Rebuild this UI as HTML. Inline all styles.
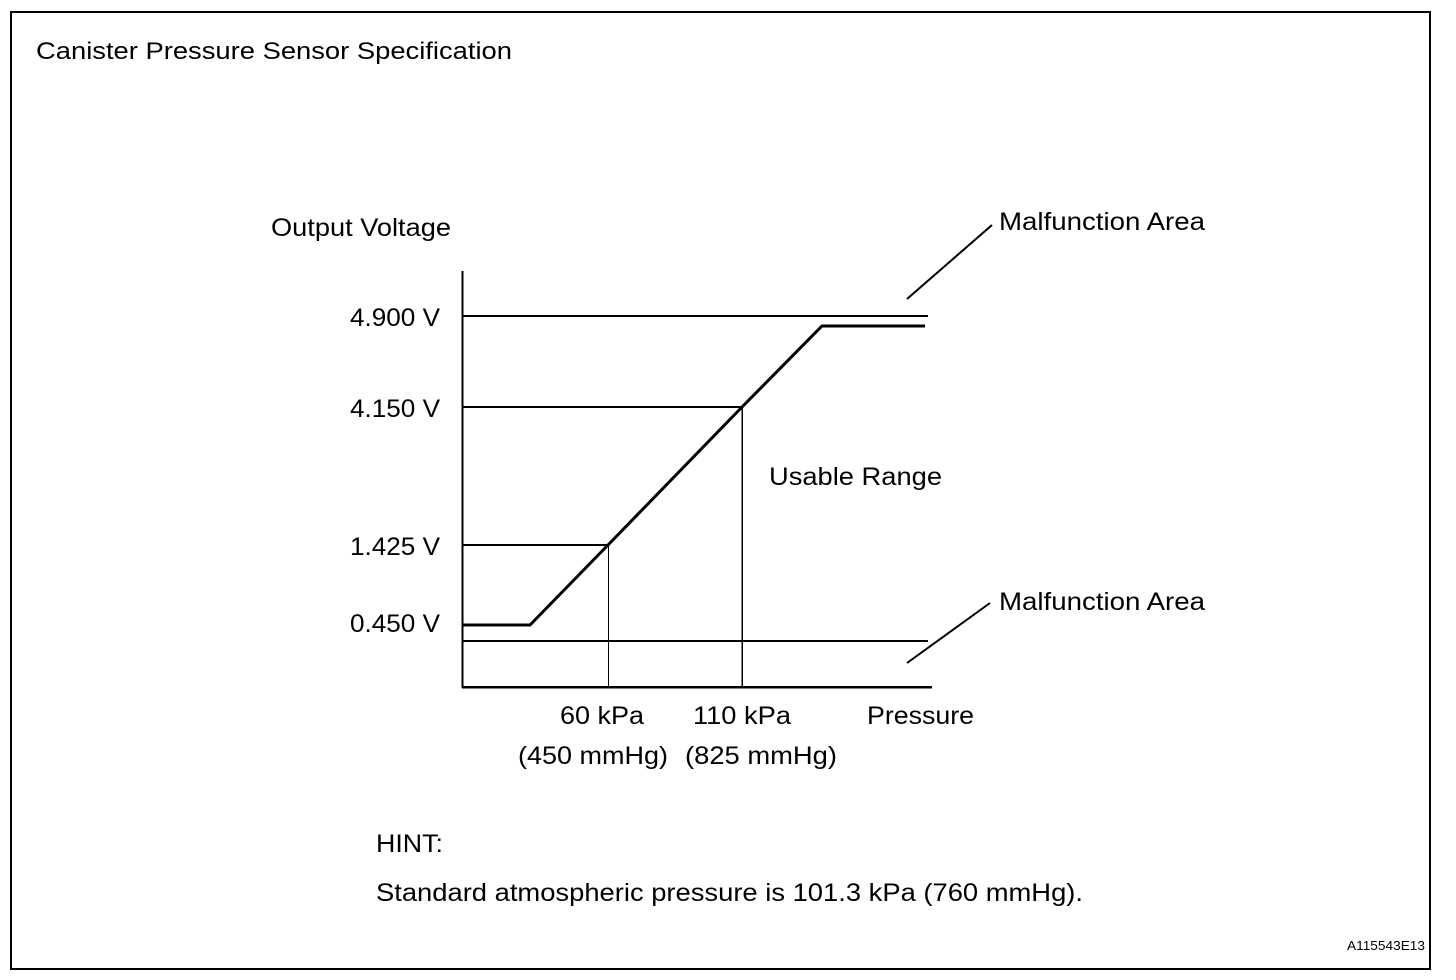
<!DOCTYPE html>
<html>
<head>
<meta charset="utf-8">
<style>
  html, body { margin: 0; padding: 0; background: #fff; }
  body { width: 1456px; height: 980px; overflow: hidden; }
  svg { display: block; }
  text { font-family: "Liberation Sans", Arial, sans-serif; fill: #000; }
</style>
</head>
<body>
<svg width="1456" height="980" viewBox="0 0 1456 980" xmlns="http://www.w3.org/2000/svg">
  <rect x="0" y="0" width="1456" height="980" fill="#fff"/>
  <!-- frame -->
  <rect x="11" y="12" width="1419" height="957" fill="none" stroke="#000" stroke-width="2" shape-rendering="crispEdges"/>

  <!-- title -->
  <text x="36" y="59" font-size="24" textLength="476" lengthAdjust="spacingAndGlyphs">Canister Pressure Sensor Specification</text>

  <!-- axis labels -->
  <text x="271" y="236" font-size="25" textLength="180" lengthAdjust="spacingAndGlyphs">Output Voltage</text>
  <text x="999" y="230" font-size="25" textLength="206" lengthAdjust="spacingAndGlyphs">Malfunction Area</text>
  <text x="999" y="610" font-size="25" textLength="206" lengthAdjust="spacingAndGlyphs">Malfunction Area</text>

  <text x="350" y="326" font-size="25" textLength="90" lengthAdjust="spacingAndGlyphs">4.900 V</text>
  <text x="350" y="417" font-size="25" textLength="90" lengthAdjust="spacingAndGlyphs">4.150 V</text>
  <text x="350" y="555" font-size="25" textLength="90" lengthAdjust="spacingAndGlyphs">1.425 V</text>
  <text x="350" y="632" font-size="25" textLength="90" lengthAdjust="spacingAndGlyphs">0.450 V</text>

  <text x="769" y="485" font-size="25" textLength="173" lengthAdjust="spacingAndGlyphs">Usable Range</text>

  <text x="560" y="724" font-size="25" textLength="84" lengthAdjust="spacingAndGlyphs">60 kPa</text>
  <text x="693" y="724" font-size="25" textLength="98" lengthAdjust="spacingAndGlyphs">110 kPa</text>
  <text x="867" y="724" font-size="25" textLength="107" lengthAdjust="spacingAndGlyphs">Pressure</text>
  <text x="518" y="764" font-size="25" textLength="150" lengthAdjust="spacingAndGlyphs">(450 mmHg)</text>
  <text x="685" y="764" font-size="25" textLength="152" lengthAdjust="spacingAndGlyphs">(825 mmHg)</text>

  <text x="376" y="852" font-size="25" textLength="67" lengthAdjust="spacingAndGlyphs">HINT:</text>
  <text x="376" y="901" font-size="25" textLength="707" lengthAdjust="spacingAndGlyphs">Standard atmospheric pressure is 101.3 kPa (760 mmHg).</text>

  <text x="1347" y="950" font-size="13" textLength="78" lengthAdjust="spacingAndGlyphs">A115543E13</text>

  <!-- axes and reference lines -->
  <g stroke="#000" fill="none" shape-rendering="crispEdges">
    <line x1="462.5" y1="271" x2="462.5" y2="688" stroke-width="2"/>
    <line x1="462" y1="687" x2="932" y2="687" stroke-width="2.5"/>
    <line x1="462" y1="316" x2="928" y2="316" stroke-width="2"/>
    <line x1="462" y1="407" x2="742" y2="407" stroke-width="2"/>
    <line x1="462" y1="545" x2="608" y2="545" stroke-width="2"/>
    <line x1="462" y1="641" x2="928" y2="641" stroke-width="2"/>
    <line x1="608.5" y1="545" x2="608.5" y2="687" stroke-width="1"/>
    <line x1="742" y1="407" x2="742" y2="687" stroke-width="1.5"/>
  </g>

  <!-- characteristic curve -->
  <polyline points="462,625 530,625 608,545 742,407 822,326 925,326" fill="none" stroke="#000" stroke-width="3" stroke-linejoin="miter"/>

  <!-- leader ticks -->
  <line x1="907" y1="299" x2="992" y2="225" stroke="#000" stroke-width="2"/>
  <line x1="907" y1="663" x2="990" y2="603" stroke="#000" stroke-width="2"/>
</svg>
</body>
</html>
